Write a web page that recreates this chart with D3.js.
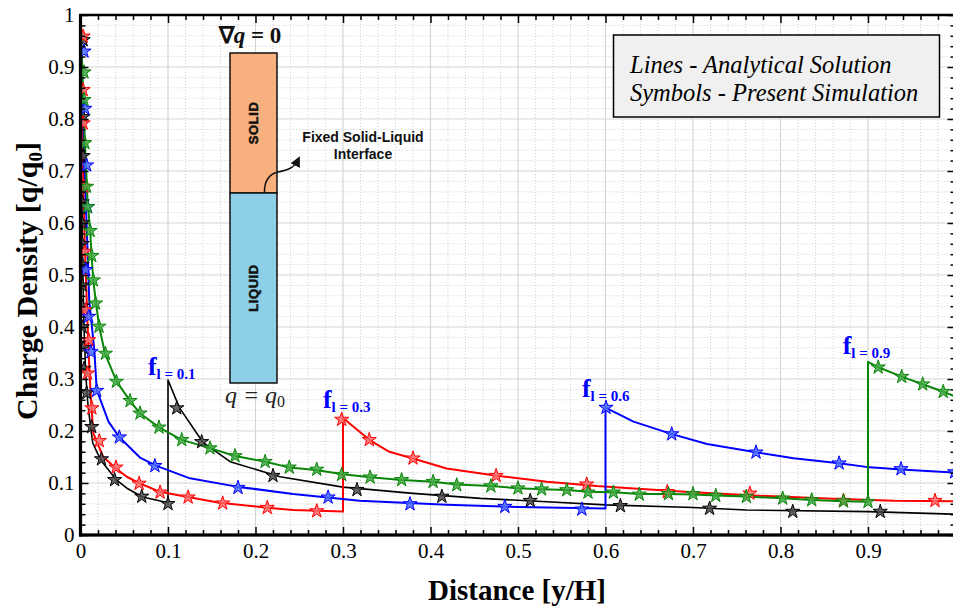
<!DOCTYPE html>
<html>
<head>
<meta charset="utf-8">
<script src="https://cdn.jsdelivr.net/npm/d3@7"></script>
<style>
  body { margin: 0; background: #fff; }
  svg { display: block; }
</style>
</head>
<body>
<svg id="chart" width="953" height="609"></svg>
<script>
// ---- Data ----------------------------------------------------------
const xTickValues = [0, 0.1, 0.2, 0.3, 0.4, 0.5, 0.6, 0.7, 0.8, 0.9];
const xTickLabels = ["0", "0.1", "0.2", "0.3", "0.4", "0.5", "0.6", "0.7", "0.8", "0.9"];
const yTickValues = [0, 0.1, 0.2, 0.3, 0.4, 0.5, 0.6, 0.7, 0.8, 0.9, 1];
const yTickLabels = ["0", "0.1", "0.2", "0.3", "0.4", "0.5", "0.6", "0.7", "0.8", "0.9", "1"];

const liquidFractions = [0.1, 0.3, 0.6, 0.9];
const seriesColors = ["#000000", "#ff0000", "#0000ff", "#0a850a"];
const starFills = ["#4a4a4a", "#ff6a6a", "#4a6aff", "#3fa83f"];

// Analytical solution (lines), [y/H, q/q0]
const analytic01 = [[0,1],[0.0008,0.82],[0.0015,0.66],[0.0025,0.52],[0.004,0.4],[0.006,0.31],[0.008,0.26],
  [0.011,0.215],[0.014,0.177],[0.02,0.155],[0.026,0.138],[0.041,0.106],[0.053,0.09],[0.071,0.073],[0.1,0.062],
  [0.1,0.298],[0.113,0.245],[0.14,0.178],[0.171,0.141],[0.228,0.112],[0.3,0.092],[0.38,0.08],[0.457,0.0705],
  [0.533,0.064],[0.6,0.058],[0.7,0.053],[0.761,0.048],[0.9,0.045],[1,0.04]];
const analytic03 = [[0,1],[0.0015,0.84],[0.003,0.7],[0.005,0.55],[0.008,0.41],[0.01,0.324],[0.012,0.26],
  [0.0146,0.196],[0.026,0.15],[0.0406,0.128],[0.053,0.112],[0.068,0.099],[0.091,0.083],[0.121,0.0737],
  [0.159,0.062],[0.213,0.0525],[0.243,0.048],[0.3,0.045],
  [0.3,0.225],[0.33,0.183],[0.353,0.16],[0.38,0.147],[0.4185,0.128],[0.4757,0.114],[0.533,0.1025],
  [0.59,0.094],[0.628,0.09],[0.7,0.082],[0.77,0.076],[0.853,0.07],[0.93,0.066],[1,0.065]];
const analytic06 = [[0,1],[0.002,0.87],[0.004,0.75],[0.006,0.644],[0.008,0.55],[0.01,0.45],[0.0158,0.356],
  [0.0185,0.279],[0.032,0.218],[0.0444,0.188],[0.068,0.149],[0.087,0.133],[0.125,0.109],[0.1785,0.093],
  [0.243,0.079],[0.319,0.066],[0.4185,0.058],[0.5,0.054],[0.6,0.051],
  [0.6,0.245],[0.632,0.218],[0.676,0.194],[0.716,0.175],[0.772,0.159],[0.815,0.1475],[0.867,0.138],
  [0.898,0.131],[0.938,0.126],[1,0.12]];
const analytic09 = [[0,1],[0.002,0.9],[0.004,0.8],[0.006,0.72],[0.008,0.644],[0.011,0.585],[0.0128,0.535],
  [0.0146,0.49],[0.0177,0.4455],[0.0215,0.4],[0.028,0.349],[0.0414,0.295],[0.0566,0.258],[0.068,0.234],
  [0.0897,0.207],[0.1157,0.183],[0.148,0.167],[0.1766,0.152],[0.211,0.141],[0.2386,0.13],[0.269,0.125],
  [0.3,0.117],[0.331,0.111],[0.367,0.106],[0.403,0.1025],[0.43,0.097],[0.469,0.094],[0.5,0.09],
  [0.527,0.088],[0.556,0.0865],[0.58,0.083],[0.609,0.082],[0.639,0.079],[0.672,0.079],[0.7,0.078],
  [0.726,0.076],[0.761,0.074],[0.8025,0.0705],[0.8357,0.0675],[0.872,0.065],[0.9,0.064],
  [0.9,0.333],[0.9117,0.3225],[0.9385,0.3045],[0.9625,0.29],[0.986,0.2756],[1,0.266]];

// Present simulation (symbols), [y/H, q/q0]
const simulated01 = [[0.003,0.952],[0.003,0.804],[0.003,0.729],[0.002,0.64],[0.002,0.6],[0.002,0.56],
  [0.002,0.52],[0.002,0.48],[0.002,0.44],[0.002,0.4],[0.003,0.36],[0.004,0.32],[0.007,0.273],[0.0128,0.208],
  [0.024,0.146],[0.039,0.106],[0.07,0.074],[0.1,0.06],[0.11,0.244],[0.1385,0.179],[0.22,0.114],
  [0.316,0.087],[0.413,0.074],[0.514,0.066],[0.617,0.056],[0.719,0.051],[0.814,0.045],[0.914,0.045]];
const simulated03 = [[0.003,0.959],[0.003,0.856],[0.003,0.792],[0.004,0.67],[0.005,0.545],[0.006,0.433],
  [0.0094,0.375],[0.008,0.311],[0.013,0.244],[0.0215,0.181],[0.0406,0.13],[0.067,0.099],[0.091,0.082],
  [0.123,0.0725],[0.1625,0.061],[0.2135,0.0525],[0.27,0.046],[0.2985,0.222],[0.33,0.183],[0.38,0.1475],
  [0.475,0.114],[0.5785,0.0975],[0.6706,0.083],[0.765,0.08],[0.872,0.066],[0.9766,0.066]];
const simulated06 = [[0.004,0.93],[0.005,0.82],[0.007,0.711],[0.008,0.631],[0.006,0.51],[0.0094,0.42],
  [0.012,0.352],[0.0185,0.2775],[0.0444,0.188],[0.085,0.133],[0.18,0.091],[0.283,0.0725],[0.3766,0.0596],
  [0.485,0.0545],[0.573,0.0494],[0.6006,0.245],[0.6757,0.194],[0.772,0.159],[0.867,0.138],[0.9377,0.127],
  [0.999,0.121]];
const simulated09 = [[0.004,0.89],[0.004,0.837],[0.005,0.754],[0.007,0.67],[0.008,0.631],[0.011,0.585],
  [0.0128,0.537],[0.0146,0.49],[0.0172,0.4455],[0.0212,0.401],[0.0285,0.349],[0.041,0.295],[0.0566,0.258],
  [0.068,0.234],[0.0897,0.207],[0.1157,0.183],[0.148,0.167],[0.1766,0.152],[0.211,0.141],[0.2386,0.13],
  [0.27,0.126],[0.2985,0.116],[0.331,0.111],[0.367,0.106],[0.403,0.1025],[0.43,0.096],[0.469,0.094],
  [0.5,0.09],[0.527,0.088],[0.5557,0.0865],[0.58,0.082],[0.609,0.082],[0.6386,0.078],[0.672,0.079],
  [0.7,0.079],[0.726,0.0756],[0.761,0.0737],[0.8025,0.0705],[0.8357,0.0673],[0.872,0.065],[0.9,0.064],
  [0.9117,0.3225],[0.9385,0.3045],[0.9625,0.29],[0.986,0.2756]];

const analyticSeries = [analytic01, analytic03, analytic06, analytic09];
const simulatedSeries = [simulated01, simulated03, simulated06, simulated09];
const fractionLabels = ["0.1", "0.3", "0.6", "0.9"];
// label anchor: [y/H, q/q0] of the text baseline start
const fractionLabelPos = [[0.077, 0.308], [0.277, 0.245], [0.573, 0.265], [0.871, 0.348]];

// ---- Layout --------------------------------------------------------
const svg = d3.select("#chart");
const W = 953, H = 609;
const x = d3.scaleLinear().domain([0, 1]).range([80.5, 955.5]);
const y = d3.scaleLinear().domain([0, 1]).range([535, 15]);
const serif = "'Liberation Serif', 'Times New Roman', serif";
const sans = "'Liberation Sans', Arial, sans-serif";

svg.append("rect").attr("width", W).attr("height", H).attr("fill", "#fff");

svg.append("defs").append("clipPath").attr("id", "plotClip")
  .append("rect").attr("x", x(0)).attr("y", y(1)).attr("width", x(1) - x(0)).attr("height", y(0) - y(1));

// ---- Grid ----------------------------------------------------------
const minorVals = d3.range(0, 51).map(i => i / 50);
const grid = svg.append("g");
grid.selectAll(".vminor").data(minorVals.filter((d, i) => i % 5 !== 0)).join("line")
  .attr("x1", d => x(d)).attr("x2", d => x(d)).attr("y1", y(0)).attr("y2", y(1))
  .attr("stroke", "#cfcfcf").attr("stroke-width", 1).attr("stroke-dasharray", "1,2");
grid.selectAll(".hminor").data(minorVals.filter((d, i) => i % 5 !== 0)).join("line")
  .attr("y1", d => y(d)).attr("y2", d => y(d)).attr("x1", x(0)).attr("x2", x(1))
  .attr("stroke", "#cfcfcf").attr("stroke-width", 1).attr("stroke-dasharray", "1,2");
grid.selectAll(".vmajor").data(xTickValues.slice(1)).join("line")
  .attr("x1", d => x(d)).attr("x2", d => x(d)).attr("y1", y(0)).attr("y2", y(1))
  .attr("stroke", "#d6d6d6").attr("stroke-width", 1.2);
grid.selectAll(".hmajor").data(yTickValues.slice(1, -1)).join("line")
  .attr("y1", d => y(d)).attr("y2", d => y(d)).attr("x1", x(0)).attr("x2", x(1))
  .attr("stroke", "#d6d6d6").attr("stroke-width", 1.2);

// ---- Inset schematic -----------------------------------------------
const inset = svg.append("g");
inset.append("rect").attr("x", 230).attr("y", 53).attr("width", 47).attr("height", 140)
  .attr("fill", "#f9b07f").attr("stroke", "#111").attr("stroke-width", 1.5);
inset.append("rect").attr("x", 230).attr("y", 193).attr("width", 47).attr("height", 190)
  .attr("fill", "#8ecfe8").attr("stroke", "#111").attr("stroke-width", 1.5);
inset.append("text").attr("transform", "translate(258,123) rotate(-90)")
  .attr("text-anchor", "middle").attr("font-family", sans).attr("font-weight", "bold")
  .attr("font-size", 13).attr("letter-spacing", 0.6).attr("stroke", "#111").attr("stroke-width", 0.5)
  .attr("fill", "#111").text("SOLID");
inset.append("text").attr("transform", "translate(258,288) rotate(-90)")
  .attr("text-anchor", "middle").attr("font-family", sans).attr("font-weight", "bold")
  .attr("font-size", 13).attr("letter-spacing", 0.6).attr("stroke", "#111").attr("stroke-width", 0.5)
  .attr("fill", "#111").text("LIQUID");
const gradText = inset.append("text").attr("x", 250).attr("y", 43).attr("text-anchor", "middle")
  .attr("font-family", serif).attr("font-weight", "bold").attr("font-size", 23).attr("fill", "#111");
gradText.append("tspan").text("\u2207");
gradText.append("tspan").attr("font-style", "italic").text("q");
gradText.append("tspan").text(" = 0");
const qText = inset.append("text").attr("x", 255).attr("y", 403).attr("text-anchor", "middle")
  .attr("font-family", serif).attr("font-style", "italic").attr("font-size", 24).attr("fill", "#222");
qText.append("tspan").text("q = q");
qText.append("tspan").attr("font-size", 16).attr("dy", 4).attr("font-style", "normal").text("0");
inset.append("text").attr("x", 363).attr("y", 141.5).attr("text-anchor", "middle")
  .attr("font-family", sans).attr("font-weight", "bold").attr("font-size", 14).attr("fill", "#111")
  .text("Fixed Solid-Liquid");
inset.append("text").attr("x", 363).attr("y", 158.5).attr("text-anchor", "middle")
  .attr("font-family", sans).attr("font-weight", "bold").attr("font-size", 14).attr("fill", "#111")
  .text("Interface");
svg.select("defs").append("marker").attr("id", "arrowHead").attr("viewBox", "0 0 10 10")
  .attr("refX", 6).attr("refY", 5).attr("markerWidth", 7).attr("markerHeight", 7).attr("orient", "auto")
  .append("path").attr("d", "M0,0 L10,5 L0,10 Z").attr("fill", "#111");
inset.append("path")
  .attr("d", "M264.5,193 C264,183 268,174 278,172 C288,170 294,168 298,160")
  .attr("fill", "none").attr("stroke", "#111").attr("stroke-width", 1.5)
  .attr("marker-end", "url(#arrowHead)");

// ---- Series --------------------------------------------------------
const plot = svg.append("g").attr("clip-path", "url(#plotClip)");
const line = d3.line().x(d => x(d[0])).y(d => y(d[1]));
analyticSeries.forEach((s, i) => {
  plot.append("path").datum(s).attr("d", line).attr("fill", "none")
    .attr("stroke", seriesColors[i]).attr("stroke-width", i === 0 ? 1.6 : 2)
    .attr("stroke-linejoin", "round");
});
const star = d3.symbol(d3.symbolStar, 62);
simulatedSeries.forEach((s, i) => {
  plot.append("g").selectAll("path").data(s).join("path")
    .attr("transform", d => `translate(${x(d[0])},${y(d[1])})`)
    .attr("d", star).attr("fill", starFills[i]).attr("fill-opacity", 0.85)
    .attr("stroke", seriesColors[i]).attr("stroke-width", 1);
});

// ---- Axes ----------------------------------------------------------
const minorTicks = minorVals.filter((d, i) => i % 5 !== 0);
function styleAxis(g) {
  g.select(".domain").remove();
  g.selectAll(".tick line").attr("stroke", "#000").attr("stroke-width", 1.5);
}
svg.append("g").attr("transform", `translate(0,${y(0)})`)
  .call(d3.axisBottom(x).tickValues(xTickValues).tickSize(-8).tickPadding(8)
    .tickFormat((d, i) => xTickLabels[i]))
  .call(styleAxis)
  .call(g => g.selectAll("text").attr("font-family", serif).attr("font-size", 21).attr("fill", "#000"));
svg.append("g").attr("transform", `translate(0,${y(0)})`)
  .call(d3.axisBottom(x).tickValues(minorTicks).tickSize(-5).tickFormat("")).call(styleAxis);
svg.append("g").attr("transform", `translate(${x(0)},0)`)
  .call(d3.axisLeft(y).tickValues(yTickValues).tickSize(-8).tickPadding(6)
    .tickFormat((d, i) => yTickLabels[i]))
  .call(styleAxis)
  .call(g => g.selectAll("text").attr("font-family", serif).attr("font-size", 21).attr("fill", "#000"));
svg.append("g").attr("transform", `translate(${x(0)},0)`)
  .call(d3.axisLeft(y).tickValues(minorTicks).tickSize(-5).tickFormat("")).call(styleAxis);
svg.append("g").attr("transform", `translate(0,${y(1)})`)
  .call(d3.axisTop(x).tickValues(xTickValues).tickSize(-8).tickFormat("")).call(styleAxis);
svg.append("g").attr("transform", `translate(0,${y(1)})`)
  .call(d3.axisTop(x).tickValues(minorTicks).tickSize(-5).tickFormat("")).call(styleAxis);
svg.append("g").attr("transform", `translate(${x(1)},0)`)
  .call(d3.axisRight(y).tickValues(yTickValues).tickSize(-8).tickFormat("")).call(styleAxis);
svg.append("g").attr("transform", `translate(${x(1)},0)`)
  .call(d3.axisRight(y).tickValues(minorTicks).tickSize(-5).tickFormat("")).call(styleAxis);

// frame
svg.append("rect").attr("x", x(0)).attr("y", y(1)).attr("width", x(1) - x(0)).attr("height", y(0) - y(1))
  .attr("fill", "none").attr("stroke", "#000").attr("stroke-width", 2.5);
svg.append("line").attr("x1", x(0)).attr("x2", x(0)).attr("y1", y(1) - 1).attr("y2", y(0) + 1.5)
  .attr("stroke", "#000").attr("stroke-width", 3.2);
svg.append("line").attr("x1", x(0) - 1.5).attr("x2", x(1)).attr("y1", y(0)).attr("y2", y(0))
  .attr("stroke", "#000").attr("stroke-width", 3.2);

// ---- Interface labels ----------------------------------------------
fractionLabels.forEach((lab, i) => {
  const t = svg.append("text").attr("x", x(fractionLabelPos[i][0])).attr("y", y(fractionLabelPos[i][1]))
    .attr("font-family", serif).attr("font-weight", "bold").attr("fill", "#0000ff");
  t.append("tspan").attr("font-size", 26).text("f");
  t.append("tspan").attr("font-size", 15).attr("dy", 4).text("l = " + lab);
});

// ---- Note box ------------------------------------------------------
svg.append("rect").attr("x", 613.5).attr("y", 35).attr("width", 326).attr("height", 82)
  .attr("fill", "#f0f0f0").attr("stroke", "#000").attr("stroke-width", 1.5);
svg.append("text").attr("x", 630).attr("y", 73).attr("font-family", serif).attr("font-style", "italic")
  .attr("font-size", 24.5).attr("fill", "#000").text("Lines - Analytical Solution");
svg.append("text").attr("x", 630).attr("y", 101).attr("font-family", serif).attr("font-style", "italic")
  .attr("font-size", 24.5).attr("fill", "#000").text("Symbols - Present Simulation");

// ---- Axis titles ---------------------------------------------------
svg.append("text").attr("x", 517).attr("y", 600).attr("text-anchor", "middle")
  .attr("font-family", serif).attr("font-weight", "bold").attr("font-size", 29).attr("fill", "#000")
  .text("Distance [y/H]");
const yTitle = svg.append("text").attr("transform", "translate(37,281) rotate(-90)")
  .attr("text-anchor", "middle").attr("font-family", serif).attr("font-weight", "bold")
  .attr("font-size", 30).attr("fill", "#000");
yTitle.append("tspan").text("Charge Density [q/q");
yTitle.append("tspan").attr("font-size", 19).attr("dy", 5).text("0");
yTitle.append("tspan").attr("dy", -5).text("]");
</script>
</body>
</html>
